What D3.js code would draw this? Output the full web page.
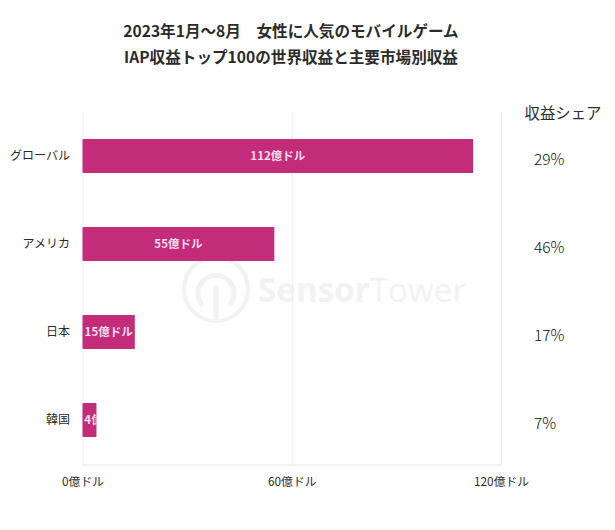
<!DOCTYPE html>
<html>
<head>
<meta charset="utf-8">
<script src="https://cdn.jsdelivr.net/npm/d3@7"></script>
<style>
body { margin: 0; background: #fff; }
text { font-family: "Noto Sans CJK JP", "Noto Sans", sans-serif; }
</style>
</head>
<body>
<script>
// data
var markets = ['グローバル', 'アメリカ', '日本', '韓国'];
var revenue = [112, 55, 15, 4];
var shares = ['29%', '46%', '17%', '7%'];
var xTicks = [0, 60, 120];
var titleLines = ['2023年1月～8月　女性に人気のモバイルゲーム', 'IAP収益トップ100の世界収益と主要市場別収益'];

var WIDTH = 615;
var HEIGHT = 530;
var plotLeft = 82.5, plotRight = 501, plotTop = 112, plotBottom = 464;

var svg = d3.select('body').append('svg')
  .attr('width', WIDTH)
  .attr('height', HEIGHT)
  .style('display', 'block');

var x = d3.scaleLinear().domain([0, 120]).range([plotLeft, plotRight]);
var y = d3.scaleBand().domain(markets).range([plotTop, plotBottom]).paddingInner(0.614).paddingOuter(0.307);

// title
svg.selectAll('.title')
  .data(titleLines)
  .enter().append('text')
  .attr('class', 'title')
  .attr('x', 291)
  .attr('y', function(d, i) { return 37 + i * 26; })
  .attr('text-anchor', 'middle')
  .attr('font-size', 15.6)
  .attr('font-weight', 700)
  .attr('fill', '#2b2b2b')
  .text(function(d) { return d; });

// watermark
var mark = svg.append('g').attr('fill', 'none').attr('stroke', '#f2f2f2');
mark.append('circle').attr('cx', 216).attr('cy', 289).attr('r', 32).attr('stroke-width', 4);
mark.append('path').attr('d', 'M203 306 A18 18 0 1 1 229 306').attr('stroke-width', 5);
mark.append('path').attr('d', 'M216 288 L216 320').attr('stroke-width', 5).attr('stroke-linecap', 'round');
svg.append('text')
  .attr('x', 258).attr('y', 302)
  .attr('font-size', 33.2)
  .attr('font-weight', 700)
  .attr('fill', '#f2f2f2')
  .style('font-family', '"Open Sans", sans-serif')
  .text('Sensor')
  .append('tspan').attr('font-weight', 400).text('Tower');

// grid
var grid = d3.axisBottom(x).tickValues(xTicks).tickSize(plotTop - plotBottom - 1).tickFormat(function(d) { return d + '億ドル'; });
var axis = svg.append('g').attr('transform', 'translate(0,' + (plotBottom + 1) + ')').call(grid);
axis.select('.domain').attr('stroke', '#e6e6e6').attr('d', 'M' + plotLeft + ',0H' + plotRight);
axis.selectAll('.tick line').attr('stroke', '#eeeeee');
axis.selectAll('.tick text')
  .attr('y', 17)
  .attr('dy', '0.32em')
  .attr('font-size', 11.8)
  .attr('fill', '#2b2b2b')
  .style('font-family', '"Noto Sans CJK JP", sans-serif');

// bars
svg.selectAll('.bar')
  .data(revenue)
  .enter().append('rect')
  .attr('class', 'bar')
  .attr('x', x(0))
  .attr('y', function(d, i) { return y(markets[i]); })
  .attr('width', function(d) { return x(d) - x(0); })
  .attr('height', y.bandwidth())
  .attr('fill', '#c32c78');

// labels get cut at the bar end
svg.append('defs').selectAll('clipPath')
  .data(revenue)
  .enter().append('clipPath')
  .attr('id', function(d, i) { return 'bar-clip-' + i; })
  .append('rect')
  .attr('x', x(0))
  .attr('y', function(d, i) { return y(markets[i]); })
  .attr('width', function(d) { return x(d) - x(0); })
  .attr('height', y.bandwidth());

svg.selectAll('.value')
  .data(revenue)
  .enter().append('text')
  .attr('class', 'value')
  .attr('clip-path', function(d, i) { return 'url(#bar-clip-' + i + ')'; })
  .attr('x', function(d) { return Math.max(x(d / 2), x(0) + 22.5); })
  .attr('y', function(d, i) { return y(markets[i]) + y.bandwidth() / 2; })
  .attr('dy', '0.35em')
  .attr('text-anchor', 'middle')
  .attr('font-size', 11.5)
  .attr('font-weight', 700)
  .attr('fill', '#fbdff0')
  .text(function(d) { return d + '億ドル'; });

// category labels
svg.selectAll('.market')
  .data(markets)
  .enter().append('text')
  .attr('class', 'market')
  .attr('x', 70)
  .attr('y', function(d) { return y(d) + y.bandwidth() / 2; })
  .attr('dy', '0.35em')
  .attr('text-anchor', 'end')
  .attr('font-size', 12)
  .attr('fill', '#2b2b2b')
  .text(function(d) { return d; });

// share column
svg.append('text')
  .attr('x', 563).attr('y', 119)
  .attr('text-anchor', 'middle')
  .attr('font-size', 15.4)
  .attr('fill', '#2b2b2b')
  .text('収益シェア');

svg.selectAll('.share')
  .data(shares)
  .enter().append('text')
  .attr('class', 'share')
  .attr('x', 534)
  .attr('y', function(d, i) { return y(markets[i]) + y.bandwidth() / 2 + 3.5; })
  .attr('dy', '0.35em')
  .attr('font-size', 15.5)
  .attr('font-weight', 300)
  .attr('fill', '#111111')
  .text(function(d) { return d; });
</script>
</body>
</html>
